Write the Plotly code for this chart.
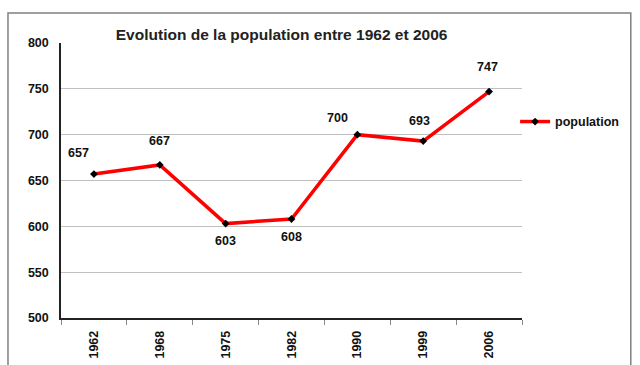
import plotly.graph_objects as go

# Population by census year
years = ["1962", "1968", "1975", "1982", "1990", "1999", "2006"]
population = [657, 667, 603, 608, 700, 693, 747]

# Offsets (px) of each value label relative to its point
label_dx = [-15, 0, 0, 0, -20, -4, -2]
label_dy = [21, 24, -17, -18, 17, 20, 25]

FONT = "Liberation Sans, Arial, sans-serif"
TXT = dict(family=FONT, size=12.5, color="#111", weight="bold")

idx = list(range(len(years)))
bounds = [i - 0.5 for i in range(len(years) + 1)]

fig = go.Figure()
fig.add_trace(go.Scatter(
    x=idx, y=population, name="population",
    mode="lines+markers",
    line=dict(color="#ff0000", width=3.5),
    marker=dict(symbol="diamond", size=6, color="#000000"),
))

for i, val, dx, dy in zip(idx, population, label_dx, label_dy):
    fig.add_annotation(
        x=i, y=val, text=str(val), showarrow=False,
        xshift=dx, yshift=dy, font=TXT,
    )

# outer frame around the chart
fig.add_shape(type="rect", xref="paper", yref="paper",
              x0=-0.115, x1=1.236, y0=-0.25, y1=1.109,
              line=dict(color="#808080", width=1.5), layer="below")

fig.update_layout(
    width=640, height=365,
    margin=dict(l=61, r=118, t=43, b=47, autoexpand=False),
    paper_bgcolor="white", plot_bgcolor="white",
    title=dict(text="Evolution de la population entre 1962 et 2006",
               x=0.44, xanchor="center", y=0.905, yanchor="middle",
               font=dict(family=FONT, size=15.5, color="#222", weight="bold")),
    showlegend=True,
    legend=dict(x=0.985, xanchor="left", y=0.713, yanchor="middle",
                font=TXT, bgcolor="rgba(0,0,0,0)", itemwidth=30),
    xaxis=dict(range=[bounds[0], bounds[-1]], tickmode="array",
               tickvals=idx, ticktext=years, tickangle=-90, ticks="",
               ticklabelstandoff=6, automargin=False,
               showline=True, linecolor="#222", linewidth=1.5,
               showgrid=False, zeroline=False,
               minor=dict(tickmode="array", tickvals=bounds, ticks="outside",
                          ticklen=5, tickcolor="#888", showgrid=False),
               tickfont=TXT),
    yaxis=dict(range=[500, 800], dtick=50, showline=True, linecolor="#222",
               linewidth=1.5, gridcolor="#c0c0c0", gridwidth=1.2,
               ticks="", zeroline=False, ticklabelstandoff=8,
               automargin=False, tickfont=TXT),
)

fig.write_html("out.html")
